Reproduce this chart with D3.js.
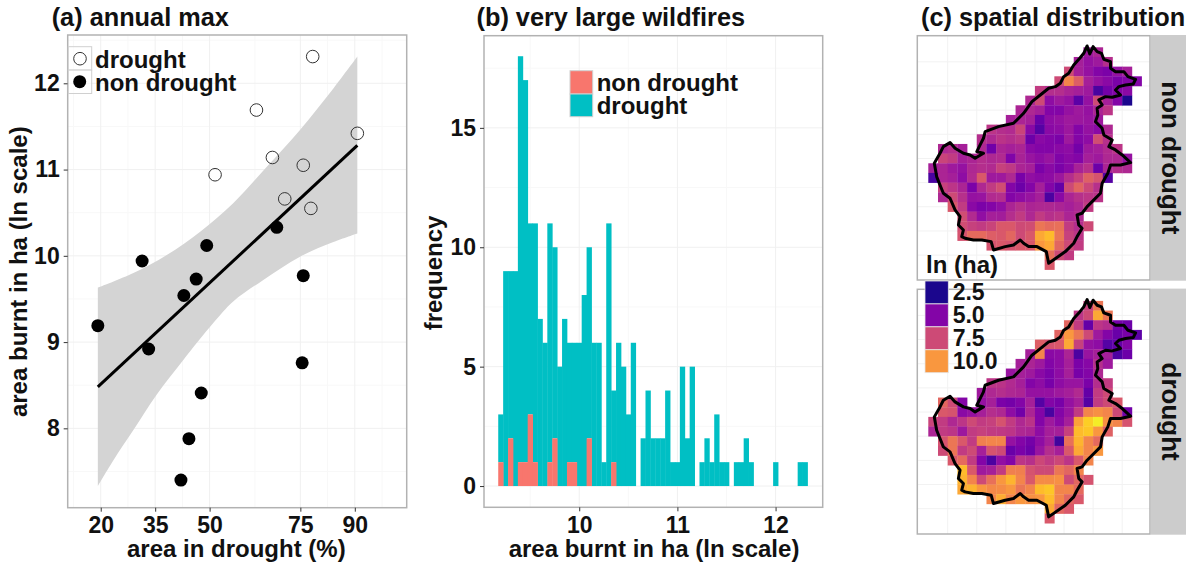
<!DOCTYPE html>
<html>
<head>
<meta charset="utf-8">
<script src="https://cdn.jsdelivr.net/npm/d3@7"></script>
<style>
body { margin: 0; background: #fff; }
text { font-family: "Liberation Sans", Arial, sans-serif; font-weight: bold; fill: #111; }
.axis path { display: none; }
.axis line { stroke: #333; }
</style>
</head>
<body>
<svg id="chart" width="1198" height="567"></svg>
<script>
/*********************************************
    * (a) annual max
*********************************************/
var droughtX = [78.4, 62.9, 90.7, 67.3, 75.8, 51.5, 70.7, 77.9];
var droughtY = [12.31, 11.69, 11.42, 11.14, 11.05, 10.94, 10.66, 10.55];
var nonDroughtX = [68.5, 49.2, 31.4, 75.8, 46.3, 42.9, 19.2, 33.2, 75.5, 47.7, 44.3, 42.1];
var nonDroughtY = [10.33, 10.12, 9.94, 9.77, 9.73, 9.54, 9.19, 8.92, 8.76, 8.41, 7.88, 7.40];
var fitX = [19.2, 90.7];
var fitY = [8.48, 11.28];
var upperX = [19.2, 29, 38.2, 47.4, 56.5, 65.7, 74.9, 84.1, 90.7];
var upperY = [9.63, 9.80, 10.01, 10.28, 10.61, 11.03, 11.46, 11.94, 12.31];
var lowerX = [19.2, 23.5, 29, 35.4, 42.7, 51, 56.5, 64.8, 74.9, 84.1, 90.7];
var lowerY = [7.33, 7.63, 7.98, 8.39, 8.79, 9.22, 9.47, 9.72, 9.99, 10.16, 10.26];
var xTicksA = [20, 35, 50, 75, 90];
var xMinorA = [12.5, 27.5, 42.5, 62.5, 82.5, 97.5];
var yTicksA = [8, 9, 10, 11, 12];
var yMinorA = [7.5, 8.5, 9.5, 10.5, 11.5, 12.5];

/*********************************************
    * (b) very large wildfires
*********************************************/
var binStart = 9.175, binWidth = 0.05;
var histDrought = [2,9,7,9,17,16,8,10,7,6, 10,8,5,7,5,5,6,8,8,6, 6,1,11,3,6,5,3,6,0,2,
    4,2,2,2,4,1,1,5,2,5, 0,1,2,1,3,1,1,0,1,1, 2,1,0,0,0,0,1,0,0,0, 0,1,1];
var histNonDrought = [1,0,2,0,1,1,3,1,0,0, 1,2,0,0,1,1,0,0,2,0, 0,0,0,1,0,0,0,0,0,0,
    0,0,0,0,0,0,0,0,0,0, 0,0,0,0,0,0,0,0,0,0, 0,0,0,0,0,0,0,0,0,0, 0,0,0];
var xTicksB = [10, 11, 12];
var xMinorB = [9.5, 10.5, 11.5];
var yTicksB = [0, 5, 10, 15];
var yMinorB = [2.5, 7.5, 12.5, 17.5];

/*********************************************
    * (c) spatial distribution, one row per 0.5 degree of latitude
*********************************************/
var rowStart = [16,15,14,13,11,10,9,8,6,5,1,1,0,0,1,1,2,3,3,3,6,12,12];

var mapNonDrought = [
    [5.8,6.2],
    [6.0,5.5,5.8,6.5],
    [7.5,6,5.5,5,4.8,5.5,6],
    [7.5,9.5,8.2,6,5.5,5.2,4.8,5,5],
    [7,6.5,6.5,6.2,6,5.8,3.5,4.6,5,5.2],
    [6.3,7.5,5.3,5.8,5.5,4,5.5,7.5,6,5,2.5],
    [6.2,6.3,6,5,5,5.5,5.8,5.5,6.2,6.8],
    [6,6.2,6,4.3,5.3,5.5,5.8,5.7,5.6,5.8],
    [6.8,6.5,6.4,7.3,5.2,3.8,5.2,5.3,5.7,5,5.5,5.2,6.3],
    [6.5,6.3,6.7,6.5,6.8,4.4,5.2,5,4.8,5.8,5,5.3,7.6,6.6],
    [6.3,6.5,6,null,6.3,4.5,6.2,6,6.2,5.2,5,5,5.2,5.3,4.6,5.8,6,6.4,6.8],
    [7.3,7,6,6.2,6.5,6.3,6.4,4.9,6.1,5.6,5.3,5.6,4.9,5.2,5,6,5.8,6.3,6.3,5.5],
    [6,6.2,5.8,5.5,6.3,6.5,6.4,7.2,6.9,6.2,6,4.8,5.2,4.8,5.2,6.1,6.6,4.4,6.2,6.5,6.3],
    [3.5,6.2,6,5.3,6.4,8,5.8,5.8,6.3,4.7,5.4,5.2,5.3,5.7,6.5,7.2,8.3,7.8,3.8],
    [7.2,6.8,6.2,4.8,6.3,7,7.6,5,4.4,5,6,5,4.2,7.5,8.4,7.4,6.6],
    [6.3,7.5,6.6,5.5,5.6,6.4,6.5,5,5.3,5.6,6,3.6,5.2,6.2,6.6,6.8,6.7],
    [8,7,5.2,4.8,5,5.4,6.2,6.6,6.2,6.3,6.3,6.2,6,6.3,7],
    [7.6,6.4,5.4,6,5.9,6.5,7,6.3,7,6.6,6.8,6.2,6.4],
    [7.6,7.2,7,7.3,8,8,7.5,7.6,9,8.7,8.8,7,6.5,7.5],
    [7.8,8.6,8.6,8.2,8,8.5,7.5,8,10.5,11,9,7.2,6.8],
    [7.8,8,7.8,8,8,10,10.5,8.5,7.5,7],
    [8.8,7.5,7],
    [8]
];

var mapDrought = [
    [7.2,9],
    [6.8,7.5,10.5,9],
    [8.5,7,4.2,6.8,6.5,4.6,4.4],
    [8.4,10,9,7.5,5.8,5,4.3,4.7,4],
    [8.2,7.8,8,10.5,7.2,5.5,5.3,3.8,4.2,5],
    [6,9.5,5.2,5.3,6.2,3.6,5.6,6,6,3.6,4.4],
    [6,6.2,5.8,5,5.3,6,4.8,5.1,6.5,5.8],
    [5.6,6,5.8,5.2,4.8,5.3,6,4.7,5,6.3],
    [6.8,6.7,6.4,6,5,5.3,4.7,5.3,5.6,5.6,4.8,6.5,7],
    [5.8,6.3,6.5,6.3,6.2,5.5,5.5,5.5,5.8,6,6.4,4.2,7,7.5],
    [8.5,7.5,5,null,5.5,6,4.8,4.6,5,6,3.8,5,4.7,5.5,6,3.8,7,7.5,8],
    [8,7.8,5.2,5.5,6,6.5,6.3,5.3,4.5,6.2,5,3.5,5,5.6,7,9.5,9.8,9.5,7.5,4.5],
    [7.3,7,6.3,6.8,7.5,7,7.2,7.8,7,6.3,6.7,5,5.8,5.2,6,10.3,11.5,12.2,9.8,9.5,7.8],
    [6.2,7,6.8,5.7,7,7.2,7,6.9,6.8,6.3,6.2,5.3,6,6,7.2,11,11.3,10,8.3],
    [7.8,9,8,7,9.3,9.5,9.5,5.5,5,4.6,5.3,6,3.3,8.8,10.8,9.5,8.6],
    [7.5,9,7,7.5,6,7.8,7.5,4.3,4.8,4.4,5.6,6.5,6,8,10.5,9.5,10],
    [8,8.6,7,5,3.6,5.4,5,6.8,6.6,7.4,7,7.4,6.8,8,9.5],
    [11,8,5.8,6,7,9.3,9.3,7.8,7.5,7.5,9,8.5,9.5],
    [10.8,9.5,7.5,8.8,10,10.8,9.5,8,9.7,9.7,9.8,7.5,8.5,7.8],
    [10.5,10.8,10,9.6,9.7,10,9,9.5,11,11.3,9.5,9.5,8.6],
    [9.5,10.6,9.5,10,9.8,10,11,9.5,8.5,8],
    [10.5,8.5,8],
    [8]
];

var legendValues = [2.5, 5.0, 7.5, 10.0];

// coast, 29 units to a cell
var coastU = [335,360,380,395,405,420,435,453,465,475,483,493,505,518,525,545,545,560,585,597,620,613,590,570,560,575,550,530,510,520,505,507,500,520,525,550,540,560,580,605,575,545,537,520,515,490,475,460,445,450,460,445,435,410,360,353,325,300,285,275,255,230,195,188,160,135,110,100,105,90,95,80,65,45,35,25,18,35,45,65,80,105,125,140,165,145,155,165,170,210,255,285,310];
var coastV = [143,123,118,108,88,78,53,33,18,-4,20,-2,13,18,36,43,63,73,73,88,96,110,113,118,128,143,150,148,158,173,183,203,223,243,263,278,298,308,323,346,353,353,378,408,438,463,478,498,503,533,543,568,588,613,648,613,598,598,588,578,593,598,608,583,578,578,573,568,548,533,508,488,453,438,413,388,348,318,298,286,303,318,323,333,318,313,293,273,253,238,228,198,163];

/*********************************************
    * layout
*********************************************/
var svg = d3.select("#chart");

var panelA = {left: 67.7, right: 406.7, top: 35, bottom: 507.7},
    panelB = {left: 484, right: 822.7, top: 35.7, bottom: 507.3},
    panelC1 = {left: 917.3, right: 1150, top: 35.7, bottom: 280},
    panelC2 = {left: 917.3, right: 1150, top: 289.3, bottom: 534};

function frame(p) {
    return svg.append("rect")
        .attr("x", p.left).attr("y", p.top)
        .attr("width", p.right - p.left).attr("height", p.bottom - p.top);
}

function gridLines(p, xs, ys, color) {
    svg.append("g").selectAll("line").data(xs).enter().append("line")
        .attr("x1", function(d) { return d; }).attr("x2", function(d) { return d; })
        .attr("y1", p.top).attr("y2", p.bottom)
        .attr("stroke", color);
    svg.append("g").selectAll("line").data(ys).enter().append("line")
        .attr("x1", p.left).attr("x2", p.right)
        .attr("y1", function(d) { return d; }).attr("y2", function(d) { return d; })
        .attr("stroke", color);
}

function border(p) {
    frame(p).attr("fill", "none").attr("stroke", "#b2b2b2").attr("stroke-width", 1.5);
}

function styleAxis(g) {
    g.attr("class", "axis");
    g.selectAll("text").attr("font-size", 23);
}

function label(x, y, str, size, anchor, rotate) {
    var t = svg.append("text").attr("font-size", size).attr("text-anchor", anchor || "start").text(str);
    if (rotate) t.attr("transform", "translate(" + x + "," + y + ") rotate(" + rotate + ")");
    else t.attr("x", x).attr("y", y);
    return t;
}

label(51.7, 26, "(a) annual max", 25.3);
label(476.5, 26, "(b) very large wildfires", 25.3);
label(921, 26, "(c) spatial distribution", 25.3);

/*********************************************
    * panel a
*********************************************/
var xA = d3.scaleLinear().domain([10.9, 104.3]).range([panelA.left, panelA.right]);
var yA = d3.scaleLinear().domain([7.08, 12.56]).range([panelA.bottom, panelA.top]);

gridLines(panelA, xMinorA.map(xA), yMinorA.map(yA), "#f8f8f8");
gridLines(panelA, xTicksA.map(xA), yTicksA.map(yA), "#f0f0f0");

var ribbonLine = d3.line().curve(d3.curveCatmullRom);
var upperEdge = upperX.map(function(d, i) { return [xA(d), yA(upperY[i])]; });
var lowerEdge = lowerX.map(function(d, i) { return [xA(d), yA(lowerY[i])]; }).reverse();
svg.append("path")
    .attr("d", ribbonLine(upperEdge) + ribbonLine(lowerEdge).replace("M", "L") + "Z")
    .attr("fill", "#d4d4d4");

svg.append("path")
    .attr("d", d3.line()(fitX.map(function(d, i) { return [xA(d), yA(fitY[i])]; })))
    .attr("stroke", "#000").attr("stroke-width", 3).attr("fill", "none");

svg.append("g").selectAll("circle").data(droughtX).enter().append("circle")
    .attr("cx", function(d) { return xA(d); })
    .attr("cy", function(d, i) { return yA(droughtY[i]); })
    .attr("r", 6.3)
    .attr("fill", "none").attr("stroke", "#333").attr("stroke-width", 1);

svg.append("g").selectAll("circle").data(nonDroughtX).enter().append("circle")
    .attr("cx", function(d) { return xA(d); })
    .attr("cy", function(d, i) { return yA(nonDroughtY[i]); })
    .attr("r", 6.5)
    .attr("fill", "#000");

border(panelA);

svg.append("g").attr("transform", "translate(0," + panelA.bottom + ")")
    .call(d3.axisBottom(xA).tickValues(xTicksA).tickFormat(d3.format("d")).tickSize(4).tickPadding(5))
    .call(styleAxis);
svg.append("g").attr("transform", "translate(" + panelA.left + ",0)")
    .call(d3.axisLeft(yA).tickValues(yTicksA).tickFormat(d3.format("d")).tickSize(4).tickPadding(4))
    .call(styleAxis);

label(236.3, 556.5, "area in drought (%)", 24, "middle");
label(26.7, 271.7, "area burnt in ha (ln scale)", 24, "middle", -90);

// legend a
[46.7, 70].forEach(function(y) {
    svg.append("rect").attr("x", 68.3).attr("y", y).attr("width", 23.4).attr("height", 23.5)
        .attr("fill", "#fff").attr("fill-opacity", 0.6).attr("stroke", "#d0d0d0");
});
svg.append("circle").attr("cx", 80).attr("cy", 58.7).attr("r", 6.3)
    .attr("fill", "none").attr("stroke", "#333");
svg.append("circle").attr("cx", 79.7).attr("cy", 81.7).attr("r", 6.5).attr("fill", "#000");
label(95, 67.7, "drought", 24);
label(95, 90.7, "non drought", 24);

/*********************************************
    * panel b
*********************************************/
var xB = d3.scaleLinear().domain([9.03, 12.48]).range([panelB.left, panelB.right]);
var yB = d3.scaleLinear().domain([-0.89, 18.86]).range([panelB.bottom, panelB.top]);

gridLines(panelB, xMinorB.map(xB), yMinorB.map(yB), "#f8f8f8");
gridLines(panelB, xTicksB.map(xB), yTicksB.map(yB), "#f0f0f0");

var histTable = histDrought.map(function(d, i) {
    return {bin: binStart + i * binWidth, drought: d, nonDrought: histNonDrought[i]};
});
var stacked = d3.stack().keys(["nonDrought", "drought"])(histTable);
var fillB = d3.scaleOrdinal().domain(["nonDrought", "drought"]).range(["#F8766D", "#00BFC4"]);

// drought first so the small overlap between neighbours never covers the salmon bars
svg.append("g").selectAll("g").data(stacked.slice().reverse()).enter().append("g")
    .attr("fill", function(d) { return fillB(d.key); })
    .selectAll("rect")
    .data(function(d) { return d.filter(function(s) { return s[1] > s[0]; }); })
    .enter().append("rect")
    .attr("x", function(d) { return xB(d.data.bin); })
    .attr("y", function(d) { return yB(d[1]); })
    .attr("width", xB(binStart + binWidth) - xB(binStart) + 0.4)
    .attr("height", function(d) { return yB(d[0]) - yB(d[1]); });

border(panelB);

svg.append("g").attr("transform", "translate(0," + panelB.bottom + ")")
    .call(d3.axisBottom(xB).tickValues(xTicksB).tickFormat(d3.format("d")).tickSize(4).tickPadding(5))
    .call(styleAxis);
svg.append("g").attr("transform", "translate(" + panelB.left + ",0)")
    .call(d3.axisLeft(yB).tickValues(yTicksB).tickFormat(d3.format("d")).tickSize(4).tickPadding(4))
    .call(styleAxis);

label(654, 556.5, "area burnt in ha (ln scale)", 24, "middle");
label(442, 273, "frequency", 24, "middle", -90);

// legend b
svg.append("rect").attr("x", 570).attr("y", 70.7).attr("width", 22.7).attr("height", 23.3)
    .attr("fill", "#F8766D").attr("stroke", "#d0d0d0");
svg.append("rect").attr("x", 570).attr("y", 94).attr("width", 22.7).attr("height", 22.7)
    .attr("fill", "#00BFC4").attr("stroke", "#d0d0d0");
label(596.7, 91, "non drought", 24);
label(596.7, 114, "drought", 24);

/*********************************************
    * panel c
*********************************************/
var colorC = d3.scaleSequential(d3.interpolatePlasma).domain([2.3, 12.5]);
var colC = d3.scaleLinear().domain([0, 22]).range([928.3, 1141.6]);
var coastX = d3.scaleLinear().domain([0, 638]).range([928.3, 1141.6]);

function drawMap(p, values, name) {
    var rowC = d3.scaleLinear().domain([0, 23]).range([p.top + 11.6, p.top + 233.9]);
    var coastY = d3.scaleLinear().domain([0, 667]).range([p.top + 11.6, p.top + 233.9]);

    frame(p).attr("fill", "#fff");

    gridLines(p, d3.range(2, 22, 3).map(colC), d3.range(1.5, 23, 2.5).map(rowC), "#f2f2f2");

    var cells = [];
    values.forEach(function(row, r) {
        row.forEach(function(v, i) {
            if (v !== null) cells.push({row: r, col: rowStart[r] + i, value: v});
        });
    });

    svg.append("g").selectAll("rect").data(cells).enter().append("rect")
        .attr("x", function(d) { return colC(d.col); })
        .attr("y", function(d) { return rowC(d.row); })
        .attr("width", colC(1) - colC(0) + 0.3)
        .attr("height", rowC(1) - rowC(0) + 0.3)
        .attr("fill", function(d) { return colorC(d.value); });

    svg.append("path")
        .attr("d", d3.line().x(function(d) { return coastX(d); })
            .y(function(d, i) { return coastY(coastV[i]); })(coastU) + "Z")
        .attr("fill", "none").attr("stroke", "#000").attr("stroke-width", 3)
        .attr("stroke-linejoin", "round");

    border(p);

    // strip on the right
    svg.append("rect").attr("x", p.right + 1).attr("y", p.top - 0.7)
        .attr("width", 35).attr("height", p.bottom - p.top + 1.4)
        .attr("fill", "#cccccc");
    label(1161.5, (p.top + p.bottom) / 2, name, 26, "middle", 90);
}

drawMap(panelC1, mapNonDrought, "non drought");
drawMap(panelC2, mapDrought, "drought");

// legend c sits over both facets
var keyY = d3.scaleBand().domain(legendValues).range([281, 372.7]);
label(926, 273.3, "ln (ha)", 24);
svg.append("g").selectAll("rect").data(legendValues).enter().append("rect")
    .attr("x", 925).attr("width", 23.3)
    .attr("y", function(d) { return keyY(d); })
    .attr("height", keyY.bandwidth())
    .attr("fill", function(d) { return colorC(d); })
    .attr("stroke", "#e6e6e6").attr("stroke-width", 0.8);
svg.append("g").selectAll("text").data(legendValues).enter().append("text")
    .attr("x", 952.7)
    .attr("y", function(d) { return keyY(d) + 19; })
    .attr("font-size", 23)
    .text(function(d) { return d3.format(".1f")(d); });
</script>
</body>
</html>
